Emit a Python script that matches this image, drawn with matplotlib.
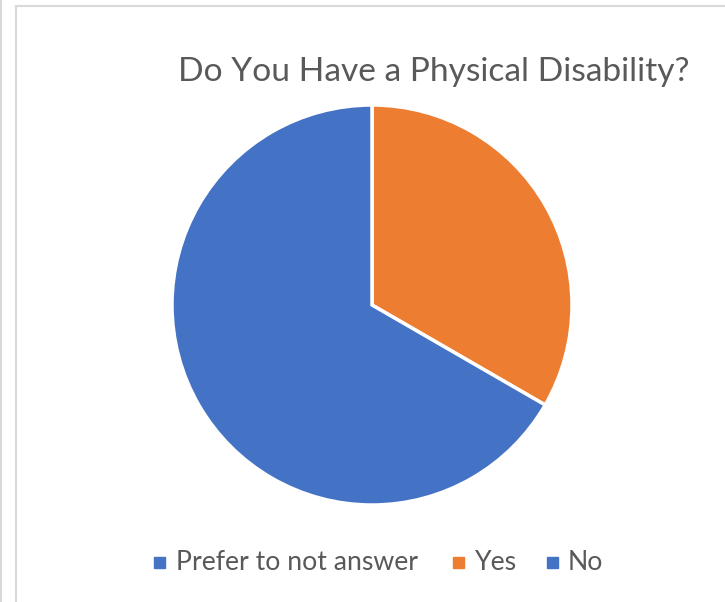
import matplotlib
matplotlib.use('Agg')
import matplotlib.pyplot as plt
from matplotlib.lines import Line2D
from matplotlib.patches import Rectangle

# data
categories = ['Prefer to not answer', 'Yes', 'No']
counts = [0, 1, 2]
slice_colors = ['#4472C4', '#ED7D31', '#4472C4']

TITLE = 'Do You Have a Physical Disability?'
FONT = ['Lato', 'DejaVu Sans']
TEXT_COLOR = '#595959'
BORDER = '#D9D9D9'

W, H = 725, 602
fig = plt.figure(figsize=(W / 100, H / 100), dpi=100)

# pie placed to match the pixel box of the reference (x 172..572, y 105..505)
ax = fig.add_axes([172 / W, 1 - 505 / H, 400 / W, 400 / H])
ax.pie(counts, colors=slice_colors, startangle=90, counterclock=False,
       wedgeprops=dict(edgecolor='white', linewidth=2.5))
ax.set_xlim(-1, 1); ax.set_ylim(-1, 1)
ax.set_aspect('equal')
ax.axis('off')

fig.text(434 / W, 1 - 72 / H, TITLE, ha='center', va='center',
         fontsize=24.1, color=TEXT_COLOR, family=FONT)

# legend drawn by hand: squares + labels
marker_x = [154, 453, 547]
text_x = [176, 475, 568]
ly = 562
for lab, col, mx, tx in zip(categories, slice_colors, marker_x, text_x):
    fig.patches.append(Rectangle((mx / W, 1 - (ly + 5.5) / H), 11 / W, 11 / H,
                                 transform=fig.transFigure, color=col))
    fig.text(tx / W, 1 - ly / H, lab, ha='left', va='center',
             fontsize=19.2, color=TEXT_COLOR, family=FONT)

# light frame lines from the original screenshot
fig.add_artist(Line2D([0.8 / W, 0.8 / W], [0, 1], transform=fig.transFigure, color=BORDER, lw=1.5))
fig.add_artist(Line2D([15.5 / W, 15.5 / W], [0, 1 - 5.5 / H], transform=fig.transFigure, color=BORDER, lw=1.5))
fig.add_artist(Line2D([15.5 / W, 1], [1 - 5.5 / H, 1 - 5.5 / H], transform=fig.transFigure, color=BORDER, lw=1.5))

fig.savefig('out.png', dpi=100, facecolor='white')
